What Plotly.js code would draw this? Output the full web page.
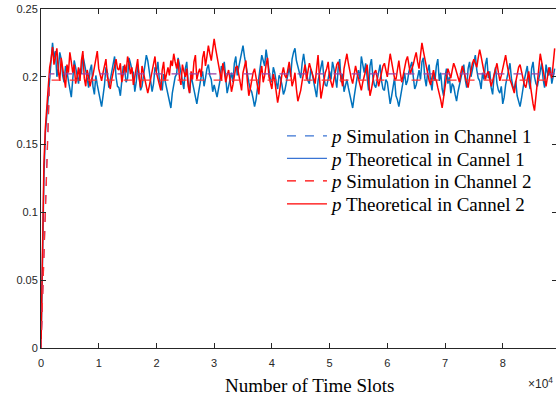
<!DOCTYPE html>
<html>
<head>
<meta charset="utf-8">
<script src="https://cdn.plot.ly/plotly-3.0.1.min.js"></script>
<style>
html,body{margin:0;padding:0;overflow:hidden;background:#fff;width:556px;height:398px;}
#chart{width:560px;height:398px;}
</style>
</head>
<body>
<div id="chart"></div>
<script>
// Sampling step of the time-slot axis (slots between samples)
const slotStep = 250;

// Theoretical p in channel 1 (blue), one value per sample
const theoCh1 = [
0,0.07,0.125,0.158,0.172,0.19,0.2,0.216,0.225,0.214,
0.219,0.2,0.206,0.218,0.213,0.201,0.196,0.208,0.204,0.197,
0.191,0.185,0.198,0.212,0.207,0.199,0.195,0.206,0.202,0.216,
0.211,0.204,0.199,0.192,0.205,0.209,0.193,0.187,0.201,0.194,
0.188,0.183,0.178,0.186,0.194,0.207,0.203,0.192,0.198,0.204,
0.209,0.215,0.2,0.193,0.192,0.186,0.197,0.208,0.205,0.196,
0.199,0.214,0.21,0.205,0.203,0.189,0.196,0.209,0.201,0.19,
0.193,0.2,0.206,0.216,0.212,0.204,0.2,0.189,0.195,0.207,
0.204,0.211,0.198,0.193,0.19,0.202,0.197,0.191,0.186,0.18,
0.177,0.188,0.193,0.2,0.202,0.214,0.209,0.203,0.199,0.191,
0.206,0.211,0.196,0.188,0.201,0.195,0.19,0.184,0.18,0.187,
0.195,0.2,0.204,0.193,0.199,0.206,0.209,0.201,0.198,0.189,
0.194,0.19,0.185,0.191,0.197,0.208,0.205,0.211,0.199,0.188,
0.193,0.198,0.203,0.196,0.21,0.215,0.201,0.207,0.212,0.217,
0.223,0.215,0.208,0.2,0.196,0.191,0.189,0.184,0.178,0.183,
0.192,0.2,0.206,0.216,0.212,0.208,0.22,0.214,0.205,0.198,
0.196,0.207,0.203,0.196,0.191,0.201,0.199,0.194,0.187,0.19,
0.196,0.203,0.207,0.2,0.213,0.218,0.221,0.212,0.208,0.203,
0.199,0.21,0.217,0.209,0.204,0.197,0.195,0.206,0.202,0.196,
0.19,0.185,0.197,0.203,0.206,0.212,0.2,0.194,0.193,0.199,
0.204,0.198,0.211,0.206,0.199,0.192,0.207,0.213,0.196,0.202,
0.189,0.194,0.198,0.192,0.186,0.181,0.177,0.185,0.194,0.199,
0.205,0.198,0.215,0.208,0.203,0.21,0.197,0.19,0.208,0.213,
0.2,0.194,0.192,0.198,0.203,0.209,0.197,0.191,0.19,0.198,
0.196,0.188,0.18,0.186,0.193,0.199,0.186,0.183,0.178,0.184,
0.192,0.199,0.203,0.194,0.197,0.204,0.207,0.211,0.2,0.191,
0.194,0.2,0.205,0.198,0.211,0.214,0.199,0.193,0.204,0.209,
0.196,0.19,0.203,0.197,0.208,0.213,0.197,0.203,0.191,0.186,
0.2,0.206,0.195,0.2,0.188,0.195,0.193,0.187,0.182,0.189,
0.194,0.2,0.203,0.209,0.198,0.192,0.206,0.211,0.2,0.205,
0.212,0.216,0.205,0.199,0.197,0.191,0.203,0.198,0.209,0.214,
0.199,0.204,0.192,0.187,0.201,0.207,0.195,0.19,0.188,0.193,
0.18,0.185,0.194,0.2,0.204,0.21,0.199,0.193,0.191,0.197,
0.186,0.182,0.178,0.184,0.192,0.198,0.203,0.208,0.197,0.191,
0.206,0.211,0.2,0.195,0.193,0.199,0.204,0.21,0.198,0.192,
0.209,0.203,0.201,0.207,0.195,0.2,0.206
];

// Theoretical p in channel 2 (red), one value per sample
const theoCh2 = [
0,0.08,0.135,0.162,0.18,0.196,0.207,0.213,0.222,0.209,
0.216,0.221,0.204,0.197,0.214,0.205,0.199,0.192,0.209,0.203,
0.218,0.211,0.203,0.209,0.195,0.2,0.207,0.197,0.212,0.219,
0.199,0.193,0.205,0.2,0.193,0.198,0.201,0.207,0.214,0.219,
0.206,0.2,0.197,0.203,0.208,0.213,0.2,0.195,0.191,0.198,
0.203,0.209,0.213,0.206,0.205,0.21,0.196,0.202,0.209,0.203,
0.215,0.21,0.202,0.207,0.194,0.2,0.206,0.213,0.199,0.192,
0.208,0.203,0.196,0.191,0.188,0.193,0.198,0.205,0.21,0.215,
0.203,0.198,0.195,0.19,0.205,0.211,0.197,0.202,0.207,0.201,
0.212,0.208,0.217,0.211,0.206,0.213,0.199,0.194,0.209,0.204,
0.2,0.206,0.193,0.188,0.204,0.198,0.211,0.216,0.198,0.203,
0.206,0.2,0.214,0.219,0.208,0.215,0.223,0.217,0.212,0.22,
0.228,0.221,0.214,0.208,0.203,0.197,0.21,0.204,0.196,0.201,
0.205,0.198,0.189,0.194,0.2,0.207,0.208,0.201,0.195,0.19,
0.203,0.209,0.212,0.197,0.186,0.191,0.198,0.203,0.206,0.2,
0.193,0.187,0.202,0.208,0.196,0.201,0.209,0.214,0.2,0.195,
0.191,0.202,0.197,0.189,0.181,0.187,0.196,0.202,0.207,0.201,
0.199,0.205,0.211,0.203,0.193,0.197,0.203,0.191,0.182,0.186,
0.19,0.197,0.204,0.209,0.198,0.203,0.21,0.206,0.202,0.197,
0.195,0.206,0.216,0.199,0.184,0.19,0.197,0.203,0.206,0.211,
0.2,0.195,0.192,0.198,0.204,0.209,0.211,0.205,0.198,0.193,
0.206,0.212,0.217,0.21,0.203,0.199,0.195,0.202,0.208,0.203,
0.199,0.194,0.19,0.196,0.201,0.205,0.209,0.197,0.186,0.191,
0.197,0.203,0.205,0.199,0.193,0.198,0.203,0.208,0.21,0.204,
0.2,0.209,0.217,0.211,0.205,0.199,0.198,0.206,0.212,0.203,
0.196,0.201,0.207,0.212,0.215,0.208,0.202,0.206,0.209,0.214,
0.218,0.211,0.206,0.216,0.225,0.219,0.213,0.206,0.201,0.197,
0.194,0.2,0.205,0.199,0.197,0.192,0.188,0.183,0.177,0.186,
0.193,0.2,0.206,0.202,0.199,0.205,0.21,0.207,0.203,0.198,
0.196,0.203,0.208,0.204,0.2,0.195,0.192,0.199,0.205,0.21,
0.213,0.209,0.207,0.214,0.22,0.215,0.209,0.203,0.198,0.202,
0.204,0.198,0.193,0.197,0.201,0.206,0.21,0.203,0.197,0.201,
0.206,0.211,0.216,0.209,0.202,0.198,0.195,0.191,0.188,0.196,
0.203,0.207,0.209,0.203,0.198,0.194,0.192,0.199,0.204,0.195,
0.186,0.18,0.175,0.185,0.196,0.207,0.217,0.211,0.205,0.199,
0.193,0.2,0.207,0.203,0.199,0.21,0.221
];

// Simulated p (dashed) in both channels
const simSlots = [0, 1500, 89000];
const simCh1 = [0, 0.2021, 0.2021];
const simCh2 = [0, 0.1976, 0.1976];

// Axis ticks
const xTickVals = [0,10000,20000,30000,40000,50000,60000,70000,80000];
const xTickText = ['0','1','2','3','4','5','6','7','8'];
const yTickVals = [0,0.05,0.1,0.15,0.2,0.25];
const yTickText = ['0','0.05','0.1','0.15','0.2','0.25'];

const legendNames = [
  '<i>p</i> Simulation in Channel 1',
  '<i>p</i> Theoretical in Cannel 1',
  '<i>p</i> Simulation in Channel 2',
  '<i>p</i> Theoretical in Cannel 2'
];

const slots1 = theoCh1.map((_, i) => i * slotStep);
const slots2 = theoCh2.map((_, i) => i * slotStep);

const traces = [
  {x: slots1, y: theoCh1, mode:'lines', line:{color:'#0072BD', width:1.5}, showlegend:false, hoverinfo:'skip'},
  {x: slots2, y: theoCh2, mode:'lines', line:{color:'#FF0000', width:1.5}, showlegend:false, hoverinfo:'skip'},
  {x: simSlots, y: simCh1, mode:'lines', line:{color:'#9a3fa6', width:1.2, dash:'dash'}, showlegend:false, hoverinfo:'skip'},
  {x: simSlots, y: simCh2, mode:'lines', line:{color:'#ff3030', width:1.2, dash:'dash'}, showlegend:false, hoverinfo:'skip'},
  // legend entries
  {x:[null], y:[null], mode:'lines', name: legendNames[0], legend:'legend', line:{color:'#3a74d4', width:1.3, dash:'dash'}},
  {x:[null], y:[null], mode:'lines', name: legendNames[1], legend:'legend2', line:{color:'#3a74d4', width:1.3}},
  {x:[null], y:[null], mode:'lines', name: legendNames[2], legend:'legend3', line:{color:'#ff0000', width:1.3, dash:'dash'}},
  {x:[null], y:[null], mode:'lines', name: legendNames[3], legend:'legend4', line:{color:'#ff0000', width:1.3}}
];

const axisCommon = {
  showgrid:false, zeroline:false, showline:true, linecolor:'#262626', linewidth:1,
  mirror:'ticks', ticks:'inside', ticklen:5, tickcolor:'#262626', tickwidth:1,
  tickfont:{family:'Liberation Sans, Arial, sans-serif', size:11, color:'#262626'}
};

function legendAt(yPaper) {
  return {x:0.467, y:yPaper, xanchor:'left', yanchor:'middle', bgcolor:'rgba(0,0,0,0)', borderwidth:0,
    itemwidth:40, font:{family:'Liberation Serif, Times New Roman, serif', size:19, color:'#000'}};
}

const layout = {
  width:560, height:398,
  margin:{l:41, r:3, t:9, b:50},
  paper_bgcolor:'#ffffff', plot_bgcolor:'#ffffff',
  xaxis: Object.assign({}, axisCommon, {range:[0, 89400], tickmode:'array', tickvals:xTickVals, ticktext:xTickText, ticklabelstandoff:5}),
  yaxis: Object.assign({}, axisCommon, {range:[0, 0.25], tickmode:'array', tickvals:yTickVals, ticktext:yTickText}),
  legend: legendAt(0.6254),
  legend2: legendAt(0.559),
  legend3: legendAt(0.4926),
  legend4: legendAt(0.4248),
  annotations:[
    {text:'Number of Time Slots', xref:'paper', yref:'paper', x:0.521, y:-0.112, xanchor:'center', yanchor:'middle',
     showarrow:false, font:{family:'Liberation Serif, Times New Roman, serif', size:19, color:'#000'}},
    {text:'×10<sup>4</sup>', xref:'paper', yref:'paper', x:0.996, y:-0.103, xanchor:'right', yanchor:'middle',
     showarrow:false, font:{family:'Liberation Sans, Arial, sans-serif', size:12, color:'#262626'}}
  ],
  showlegend:true
};

Plotly.newPlot('chart', traces, layout, {staticPlot:true, displayModeBar:false});
</script>
</body>
</html>
